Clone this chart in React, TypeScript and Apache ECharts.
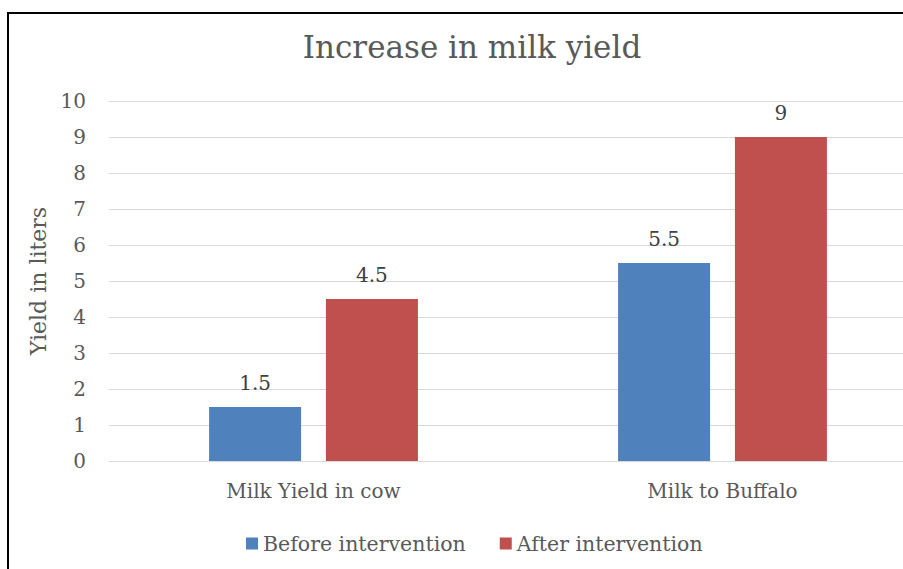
import React, { useEffect, useRef } from "react";
import * as echarts from "echarts";

const categories = ["Milk Yield in cow", "Milk to Buffalo"];
const beforeValues = [1.5, 5.5];
const afterValues = [4.5, 9];
const seriesNames = ["Before intervention", "After intervention"];
const titleText = "Increase in milk yield";
const yAxisName = "Yield in liters";

const FONT = "'DejaVu Serif', serif";

export default function App() {
  const ref = useRef<HTMLDivElement>(null);
  useEffect(() => {
    if (!ref.current) return;
    const chart = echarts.init(ref.current, undefined, { renderer: "svg" });
    const labelStyle = {
      show: true,
      position: "top" as const,
      distance: 14,
      color: "#404040",
      fontSize: 20,
      fontFamily: FONT,
    };
    chart.setOption({
      animation: false,
      backgroundColor: "#ffffff",
      title: {
        text: titleText,
        left: 467,
        textAlign: "center",
        top: 26,
        textStyle: { color: "#595959", fontSize: 31, fontWeight: "normal", fontFamily: FONT },
      },
      legend: {
        bottom: 10,
        left: 241,
        itemWidth: 12,
        itemHeight: 12,
        itemGap: 34,
        icon: "rect",
        textStyle: { color: "#595959", fontSize: 20.5, fontFamily: FONT },
        data: seriesNames,
      },
      grid: {
        left: 109,
        top: 101,
        width: 818,
        height: 360,
        containLabel: false,
        outerBoundsMode: "none",
      },
      xAxis: {
        type: "category",
        data: categories,
        axisLine: { lineStyle: { color: "#D9D9D9" } },
        axisTick: { show: false },
        axisLabel: { color: "#595959", fontSize: 20, fontFamily: FONT, margin: 20 },
      },
      yAxis: {
        type: "value",
        min: 0,
        max: 10,
        interval: 1,
        name: yAxisName,
        nameLocation: "middle",
        nameGap: 60,
        nameTextStyle: { color: "#595959", fontSize: 22, fontFamily: FONT },
        axisLine: { show: false },
        axisTick: { show: false },
        axisLabel: { color: "#595959", fontSize: 20, fontFamily: FONT, margin: 23 },
        splitLine: { lineStyle: { color: "#D9D9D9", width: 1 } },
      },
      series: [
        {
          name: seriesNames[0],
          type: "bar",
          data: beforeValues,
          barWidth: 92,
          barGap: "27%",
          itemStyle: { color: "#4F81BD" },
          label: labelStyle,
        },
        {
          name: seriesNames[1],
          type: "bar",
          data: afterValues,
          barWidth: 92,
          barGap: "27%",
          itemStyle: { color: "#C0504D" },
          label: labelStyle,
        },
      ],
      graphic: [
        {
          type: "rect",
          shape: { x: 8, y: 13, width: 1000, height: 1000 },
          style: { fill: "none", stroke: "#000000", lineWidth: 2 },
          silent: true,
        },
      ],
    });
    return () => chart.dispose();
  }, []);
  return (
    <div
      ref={ref}
      style={{ position: "fixed", left: 0, top: 0, width: 903, height: 569 }}
    />
  );
}
